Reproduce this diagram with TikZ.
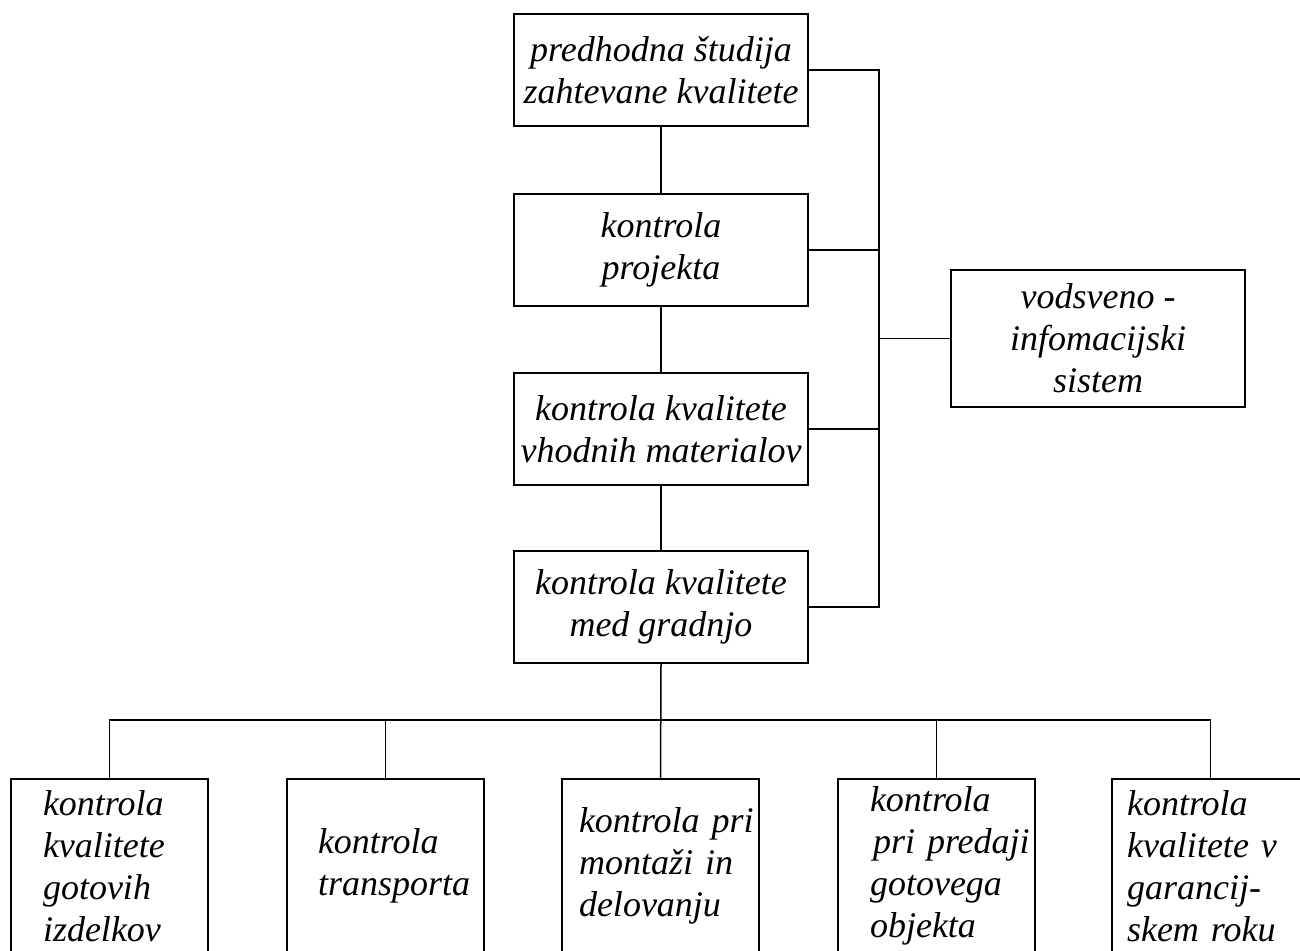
\documentclass[tikz,border=0pt]{standalone}
\usepackage{fontspec}
\setmainfont{Liberation Serif}
\begin{document}
\begin{tikzpicture}[x=1pt,y=-1pt,
  every node/.style={font=\fontsize{36}{42}\selectfont\itshape},
  mainbox/.style={draw,line width=1.5pt,minimum width=294pt,minimum height=112pt,inner sep=0pt,align=center},
  infobox/.style={draw,line width=1.5pt,minimum width=294pt,minimum height=137pt,inner sep=0pt,align=center},
  botbox/.style={draw,line width=1.5pt,minimum height=174pt,inner ysep=0pt,align=left},
  conn/.style={line width=1.5pt}]
\useasboundingbox (0,0) rectangle (1300,950);
\clip (0,0) rectangle (1300,950);

\node[mainbox] (b1) at (661,70) {predhodna študija\\zahtevane kvalitete};
\node[mainbox] (b2) at (661,250) {kontrola\\projekta};
\node[mainbox] (b3) at (661,429) {kontrola kvalitete\\vhodnih materialov};
\node[mainbox] (b4) at (661,607) {kontrola kvalitete\\med gradnjo};
\node[infobox] (info) at (1098,338.5) {vodsveno -\\infomacijski\\sistem};

\node[botbox,inner xsep=32pt,text width=133pt] (c1) at (109.5,866) {\mbox{kontrola}\\\mbox{kvalitete}\\\mbox{gotovih}\\\mbox{izdelkov}};
\node[botbox,inner xsep=31pt,text width=135pt] (c2) at (385.5,866) {\mbox{kontrola}\\\mbox{transporta}};
\node[botbox,inner xsep=17pt,text width=163pt] (c3) at (660.5,866) {\mbox{kontrola pri}\\\mbox{montaži in}\\\mbox{delovanju}};
\node[botbox,inner xsep=32pt,text width=133pt] (c4) at (936.5,866) {\mbox{kontrola}\\\mbox{\hspace*{3pt}pri predaji}\\\mbox{gotovega}\\\mbox{objekta}};
\node[botbox,inner xsep=15pt,text width=167pt] (c5) at (1210.5,866) {\mbox{kontrola}\\\mbox{kvalitete v}\\\mbox{garancij-}\\\mbox{skem roku}};

% vertical chain
\draw[conn] (b1.south) -- (b2.north);
\draw[conn] (b2.south) -- (b3.north);
\draw[conn] (b3.south) -- (b4.north);

% right bus
\coordinate (rt) at (879,70);
\draw[conn] (b1.east) -- (rt) -- (rt |- b4.east) -- (b4.east);
\draw[conn] (b2.east) -- (b2.east -| rt);
\draw[conn] (b3.east) -- (b3.east -| rt);
\draw[conn] (info.west) -- (info.west -| rt);

% bottom bus
\coordinate (j) at (660.5,720);
\draw[conn] (b4.south) -- (c3.north);
\draw[conn] (c1.north) -- (c1.north |- j) -- (c5.north |- j) -- (c5.north);
\draw[conn] (c2.north) -- (c2.north |- j);
\draw[conn] (c4.north) -- (c4.north |- j);
\end{tikzpicture}
\end{document}
